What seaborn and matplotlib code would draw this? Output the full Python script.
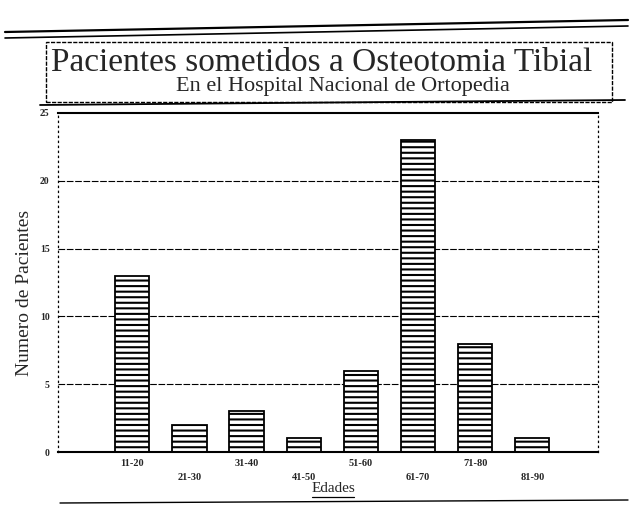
import matplotlib
matplotlib.use("Agg")
import matplotlib.pyplot as plt
import seaborn as sns
import pandas as pd
from matplotlib.lines import Line2D
from matplotlib.patches import Rectangle

# ---- data ----
edades = ["11-20", "21-30", "31-40", "41-50", "51-60", "61-70", "71-80", "81-90"]
pacientes = [13, 2, 3, 1, 6, 23, 8, 1]
yticks = [0, 5, 10, 15, 20, 25]
titulo = "Pacientes sometidos a Osteotomia Tibial"
subtitulo = "En el Hospital Nacional de Ortopedia"
xlabel = "Edades"
ylabel = "Numero de Pacientes"

sns.set_theme(style="white")
plt.rcParams["font.family"] = ["Liberation Serif", "DejaVu Serif"]
plt.rcParams["hatch.linewidth"] = 1.5
plt.rcParams["hatch.color"] = "black"

W, H = 631, 508
fig = plt.figure(figsize=(W / 100, H / 100), dpi=100)
fig.patch.set_facecolor("white")

def fx(px):
    return px / W

def fy(py):
    return 1 - py / H

ax = fig.add_axes([fx(58), fy(452), fx(598) - fx(58), fy(113) - fy(452)])

df = pd.DataFrame({"Edades": edades, "Pacientes": pacientes})
sns.barplot(data=df, x="Edades", y="Pacientes", ax=ax, color="white",
            edgecolor="black", linewidth=1.3, width=0.6, saturation=1)
for p in ax.patches:
    p.set_hatch("---")
    p.set_facecolor("white")

ax.set_xlim(-1.3, 8.15)
ax.set_ylim(0, 25)
ax.set_yticks(yticks)
ax.set_yticklabels([str(v) for v in yticks], fontsize=7, fontweight="bold")
ax.set_xticks(range(len(edades)))
ax.set_xticklabels(edades, fontsize=7.5, fontweight="bold")
for i, t in enumerate(ax.xaxis.get_major_ticks()):
    t.set_pad(15 if i % 2 else 5)
ax.tick_params(axis="both", length=0)
ax.tick_params(axis="y", pad=6)

for v in yticks[1:-1]:
    ax.axhline(v, color="black", lw=0.8, ls=(0, (6, 1.5)), zorder=0)

ax.set_xlabel("")
ax.set_ylabel(ylabel, fontsize=14)
ax.yaxis.set_label_coords(-0.046, 0.47)

for s in ["left", "right"]:
    ax.spines[s].set_linestyle((0, (1, 3)))
    ax.spines[s].set_linewidth(0.9)
    ax.spines[s].set_color("black")
for s in ["top", "bottom"]:
    ax.spines[s].set_linewidth(1.5)
    ax.spines[s].set_color("black")

# x label, underlined
fig.text(fx(333), fy(489), xlabel, ha="center", va="center", fontsize=11)
fig.add_artist(Line2D([fx(312), fx(354)], [fy(497), fy(497)], color="black", lw=0.9))
fig.add_artist(Line2D([fx(60), fx(628)], [fy(503), fy(500)], color="black", lw=1.0))

# title box
fig.add_artist(Rectangle((fx(46), fy(102)), fx(612) - fx(46), fy(42) - fy(102),
                         fill=False, edgecolor="black", lw=1.0, ls=(0, (3, 1))))
fig.add_artist(Line2D([fx(5), fx(628)], [fy(32), fy(20)], color="black", lw=1.6))
fig.add_artist(Line2D([fx(5), fx(628)], [fy(38), fy(26)], color="black", lw=1.2))
fig.add_artist(Line2D([fx(40), fx(625)], [fy(105), fy(100)], color="black", lw=1.3))

fig.text(fx(322), fy(63), titulo, ha="center", va="center", fontsize=24)
fig.text(fx(343), fy(87), subtitulo, ha="center", va="center", fontsize=16)

fig.savefig("out.png", dpi=100, facecolor="white")
